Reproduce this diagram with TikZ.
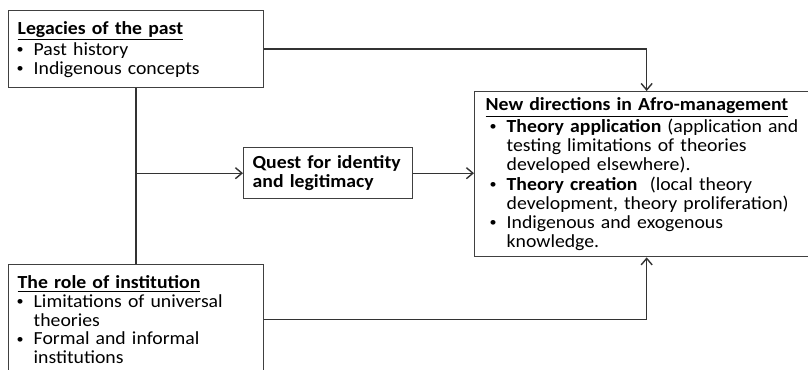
\documentclass[tikz,border=0pt]{standalone}
\usepackage{fontspec}
\setmainfont{Carlito}[FakeStretch=1.07]
\usetikzlibrary{arrows.meta,positioning,calc}

\newcommand{\itm}[1][0.32cm]{\par\noindent\hangindent=#1\hangafter=1\makebox[#1][r]{\raisebox{0.2ex}{\fontsize{7.5}{7.5}\selectfont\textbullet}\hspace{0.2cm}}}
\newcommand{\hd}[1]{\underline{\textbf{#1}}}

\begin{document}
\begin{tikzpicture}[x=0.02cm, y=-0.02cm,
    boxnode/.style={
        draw=black!75,
        fill=white,
        line width=0.8pt,
        inner xsep=0.18cm,
        inner ysep=0.12cm,
        font=\fontsize{10.5}{10.7}\selectfont,
        execute at begin node=\raggedright,
        anchor=north west
    },
    link/.style={line width=0.8pt, draw=black!80},
    arr/.style={link, -{Straight Barb[length=1.3mm, width=2.2mm]}}
]
    \useasboundingbox (0,0) rectangle (808,369);
    \clip (0,0) rectangle (808,369);

    % Boxes
    \node[boxnode, text width=4.74cm, minimum height=1.54cm] (legacy) at (8,10)
        {\hd{Legacies of the past}\itm Past history\itm Indigenous concepts\par\vspace*{0.16cm}};
    \node[boxnode, text width=3.02cm, minimum height=1.02cm, font=\fontsize{10.5}{11.2}\selectfont\bfseries] (quest) at (243,147)
        {Quest for identity\newline and legitimacy};
    \node[boxnode, inner xsep=0.22cm, text width=6.44cm, minimum height=3.24cm, font=\fontsize{10.5}{10.9}\selectfont] (newdir) at (474,91)
        {\hd{New directions in Afro-management}%
         \itm[0.42cm]\textbf{Theory application} (application and\newline testing limitations of theories\newline developed elsewhere).%
         \itm[0.42cm]\textbf{Theory creation}~ (local theory\newline development, theory proliferation)%
         \itm[0.42cm]Indigenous and exogenous\newline knowledge.\par};
    \node[boxnode, text width=4.74cm, minimum height=2.2cm] (role) at (8,264)
        {\hd{The role of institution}\itm Limitations of universal\newline theories\itm Formal and informal\newline institutions\par};

    % Connectors
    \draw[link] (legacy.south) -- (role.north);
    \coordinate (fork) at (legacy.south |- quest.west);
    \draw[arr] (fork) -- (quest.west);
    \draw[arr] (quest.east) -- (quest.east -| newdir.west);
    \draw[arr] (legacy.east) -| (newdir.north);
    \draw[arr] (role.east) -| (newdir.south);
\end{tikzpicture}
\end{document}
